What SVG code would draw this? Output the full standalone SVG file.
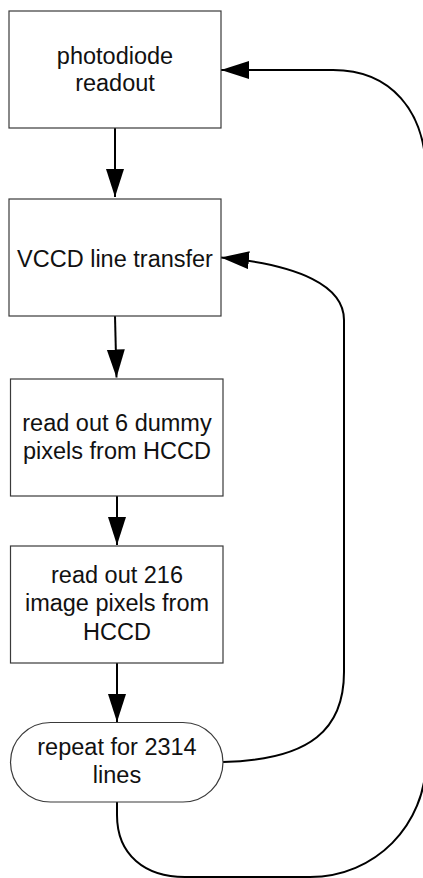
<svg xmlns="http://www.w3.org/2000/svg" width="423" height="878" viewBox="0 0 423 878">
<defs>
<style>
.box{fill:#fff;stroke:#3a3a3a;stroke-width:1.2}
.t{font-family:"Liberation Sans",Arial,sans-serif;font-size:23.5px;fill:#111;text-anchor:middle}
.c{fill:none;stroke:#000;stroke-width:2}
</style>
<marker id="ah" markerUnits="userSpaceOnUse" markerWidth="30" markerHeight="20" refX="28" refY="9" orient="auto">
<path d="M0,0 L28,9 L0,18 z" fill="#000"/>
</marker>
</defs>
<rect width="423" height="878" fill="#fff"/>
<g id="connectors">
<path class="c" d="M115,128 L115,197" marker-end="url(#ah)"/>
<path class="c" d="M115,316 L116.5,377.5" marker-end="url(#ah)"/>
<path class="c" d="M117,496 L117,545" marker-end="url(#ah)"/>
<path class="c" d="M117,663 L117,722" marker-end="url(#ah)"/>
<path class="c" d="M223,762 C312,760 344,728 344,672 L344,320 C344,286 300,265 221,257.5" marker-end="url(#ah)"/>
<path class="c" d="M117,802 L117,815 C117,855 145,877 185,877 L310,877 C375,877 426,825 426,760 L426,175 C426,110 390,70 333,70 L221,70" marker-end="url(#ah)"/>
</g>
<g id="n1">
<rect class="box" x="9" y="11" width="212" height="117"/>
<text class="t" x="115" y="63.5">photodiode</text>
<text class="t" x="115" y="91">readout</text>
</g>
<g id="n2">
<rect class="box" x="9" y="199" width="212" height="117"/>
<text class="t" x="115" y="267">VCCD line transfer</text>
</g>
<g id="n3">
<rect class="box" x="10.5" y="379" width="212.5" height="117"/>
<text class="t" x="117" y="431">read out 6 dummy</text>
<text class="t" x="117" y="459">pixels from HCCD</text>
</g>
<g id="n4">
<rect class="box" x="10.5" y="546" width="212.5" height="117"/>
<text class="t" x="117" y="583">read out 216</text>
<text class="t" x="117" y="611">image pixels from</text>
<text class="t" x="117" y="640">HCCD</text>
</g>
<g id="n5">
<rect class="box" x="10.5" y="722.5" width="212.5" height="79.5" rx="40" ry="39.75"/>
<text class="t" x="117" y="755">repeat for 2314</text>
<text class="t" x="117" y="783">lines</text>
</g>
</svg>
